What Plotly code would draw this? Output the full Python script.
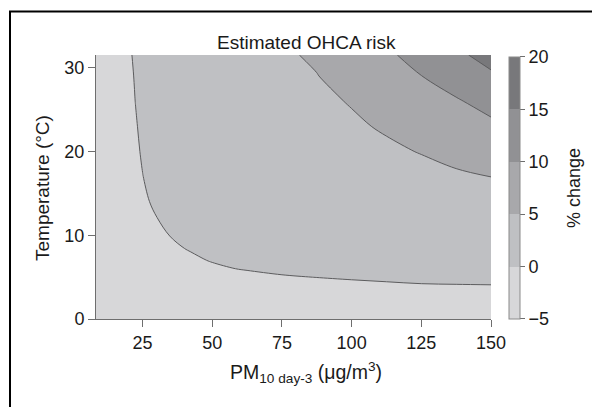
import plotly.graph_objects as go

# PM10 (ug/m3) grid and temperature (°C) grid
pm10 = [8, 15, 20, 22.5, 25, 30, 35, 40, 50, 62.5, 75, 87.5, 100, 112.5, 125, 137.5, 150]
temp = [0, 2, 4, 5, 6, 7, 8, 10, 12, 14, 17, 20, 23, 26, 29, 31.5]

# estimated % change in OHCA risk (rows = temperature, cols = PM10)
pct_t0 = [-1.20, -1.18, -1.16, -1.15, -1.14, -1.12, -1.10, -1.08, -1.04, -0.99, -0.94, -0.90, -0.86, -0.82, -0.78, -0.74, -0.70]
pct_t2 = [-0.80, -0.78, -0.76, -0.75, -0.74, -0.72, -0.70, -0.68, -0.64, -0.60, -0.56, -0.52, -0.49, -0.46, -0.43, -0.40, -0.37]
pct_t4 = [-0.45, -0.43, -0.42, -0.41, -0.40, -0.38, -0.36, -0.34, -0.30, -0.26, -0.23, -0.20, -0.17, -0.12, -0.06, -0.045, -0.03]
pct_t5 = [-0.41, -0.38, -0.35, -0.34, -0.32, -0.30, -0.27, -0.24, -0.19, -0.12, -0.05, 0.01, 0.08, 0.15, 0.22, 0.28, 0.35]
pct_t6 = [-0.38, -0.33, -0.29, -0.27, -0.25, -0.21, -0.17, -0.14, -0.06, 0.03, 0.13, 0.22, 0.32, 0.41, 0.51, 0.60, 0.70]
pct_t7 = [-0.41, -0.34, -0.29, -0.26, -0.24, -0.19, -0.13, -0.08, 0.02, 0.15, 0.28, 0.41, 0.54, 0.66, 0.79, 0.92, 1.05]
pct_t8 = [-0.44, -0.35, -0.29, -0.25, -0.22, -0.16, -0.09, -0.03, 0.10, 0.27, 0.43, 0.59, 0.75, 0.91, 1.08, 1.24, 1.40]
pct_t10 = [-0.51, -0.37, -0.28, -0.23, -0.18, -0.09, 0.01, 0.11, 0.30, 0.53, 0.77, 1.01, 1.25, 1.49, 1.72, 1.96, 2.20]
pct_t12 = [-0.54, -0.37, -0.25, -0.19, -0.13, -0.01, 0.11, 0.23, 0.48, 0.78, 1.08, 1.38, 1.69, 1.99, 2.29, 2.60, 2.90]
pct_t14 = [-0.59, -0.38, -0.23, -0.15, -0.08, 0.08, 0.23, 0.38, 0.68, 1.06, 1.43, 1.81, 2.19, 2.57, 2.94, 3.32, 3.70]
pct_t17 = [-0.69, -0.41, -0.21, -0.11, -0.01, 0.19, 0.39, 0.59, 0.99, 1.49, 1.99, 2.49, 3.00, 3.50, 4.00, 4.50, 5.02]
pct_t20 = [-0.81, -0.45, -0.20, -0.08, 0.05, 0.30, 0.55, 0.81, 1.31, 1.94, 2.57, 3.20, 3.83, 4.46, 5.14, 6.09, 7.05]
pct_t23 = [-0.90, -0.49, -0.19, -0.04, 0.11, 0.40, 0.70, 0.99, 1.59, 2.33, 3.07, 3.81, 4.55, 5.35, 6.68, 7.89, 9.10]
pct_t26 = [-0.96, -0.50, -0.16, 0.01, 0.17, 0.51, 0.84, 1.18, 1.85, 2.68, 3.52, 4.36, 5.19, 6.75, 8.18, 9.60, 11.57]
pct_t29 = [-1.03, -0.51, -0.13, 0.05, 0.24, 0.61, 0.98, 1.36, 2.10, 3.04, 3.97, 4.90, 6.53, 8.25, 9.96, 12.15, 14.35]
pct_t31 = [-1.09, -0.51, -0.10, 0.11, 0.31, 0.73, 1.14, 1.56, 2.38, 3.42, 4.45, 5.55, 7.63, 9.30, 11.55, 14.11, 16.60]

z = [pct_t0, pct_t2, pct_t4, pct_t5, pct_t6, pct_t7, pct_t8, pct_t10, pct_t12,
     pct_t14, pct_t17, pct_t20, pct_t23, pct_t26, pct_t29, pct_t31]

x_ticks = [25, 50, 75, 100, 125, 150]
y_ticks = [0, 10, 20, 30]
cb_ticks = [-5, 0, 5, 10, 15, 20]

band_colors = ["#d7d7d9", "#bfc0c3", "#a8a8ab", "#919194", "#78787b"]

FONT = "Liberation Sans, Arial, Helvetica, sans-serif"
TXT = "#1a1a1a"
AX = "#6e6e6e"

# the page body adds an 8px offset; figure is sized to fill the rest of the window
OFF = 8
FW, FH = 600 - OFF, 407 - OFF
PL, PR, PT, PB = 96, 491, 55, 319   # plot area in window pixels
PW, PH = PR - PL, PB - PT


def px(xw):
    return (xw - PL) / PW


def py(yw):
    return (PB - yw) / PH


c = band_colors
fill_scale = [[0, c[0]], [1/6, c[0]], [2/6, c[1]], [3/6, c[2]], [4/6, c[3]], [5/6, c[4]], [1, c[4]]]

bar_scale = []
for i, col in enumerate(band_colors):
    bar_scale.append([i / 5, col])
    bar_scale.append([(i + 1) / 5, col])

fig = go.Figure()
fig.add_trace(go.Contour(
    x=pm10, y=temp, z=z,
    contours=dict(start=-5, end=20, size=5, coloring="fill"),
    colorscale=fill_scale,
    line=dict(color="#5c5c5e", width=1, smoothing=1),
    showscale=False,
    hoverinfo="skip",
))

fig.add_trace(go.Scatter(
    x=[None, None], y=[None, None], mode="markers",
    marker=dict(
        color=[cb_ticks[0], cb_ticks[-1]], cmin=cb_ticks[0], cmax=cb_ticks[-1],
        colorscale=bar_scale, showscale=True,
        colorbar=dict(
            x=px(509), xanchor="left", xpad=0, ypad=0,
            y=py(187.9), yanchor="middle",
            len=262, lenmode="pixels", thickness=11,
            outlinecolor="#8a8a8a", outlinewidth=1,
            tickvals=cb_ticks, ticks="outside", ticklen=5, tickcolor=AX,
            tickfont=dict(family=FONT, size=18, color=TXT),
        ),
    ),
    showlegend=False, hoverinfo="skip",
))

fig.update_layout(
    width=FW, height=FH,
    margin=dict(l=PL - OFF, r=FW - (PR - OFF), t=PT - OFF, b=FH - (PB - OFF)),
    paper_bgcolor="white", plot_bgcolor="white",
    showlegend=False,
    xaxis=dict(range=[8.3, 150], tickvals=x_ticks, ticks="outside", ticklen=7,
               tickcolor=AX, showline=True, linecolor=AX, linewidth=1,
               showgrid=False, zeroline=False,
               tickfont=dict(family=FONT, size=18, color=TXT)),
    yaxis=dict(range=[0, 31.5], tickvals=y_ticks, ticks="outside", ticklen=7,
               tickcolor=AX, showline=True, linecolor=AX, linewidth=1,
               showgrid=False, zeroline=False,
               tickfont=dict(family=FONT, size=18, color=TXT)),
    annotations=[
        dict(text="Estimated OHCA risk", xref="paper", yref="paper",
             x=px(306), y=py(42.5), xanchor="center", yanchor="middle",
             showarrow=False, font=dict(family=FONT, size=19, color=TXT)),
        dict(text="PM<sub>10 day-3</sub> (μg/m<sup>3</sup>)", xref="paper", yref="paper",
             x=px(306), y=py(372), xanchor="center", yanchor="middle",
             showarrow=False, font=dict(family=FONT, size=19.5, color=TXT)),
        dict(text="Temperature (°C)", xref="paper", yref="paper", textangle=-90,
             x=px(42), y=py(188), xanchor="center", yanchor="middle",
             showarrow=False, font=dict(family=FONT, size=19, color=TXT)),
        dict(text="% change", xref="paper", yref="paper", textangle=-90,
             x=px(574), y=py(188), xanchor="center", yanchor="middle",
             showarrow=False, font=dict(family=FONT, size=18, color=TXT)),
    ],
    shapes=[
        dict(type="rect", xref="paper", yref="paper",
             x0=px(10), x1=px(595.5), y0=py(430), y1=py(11.5),
             line=dict(color="black", width=2), fillcolor="rgba(0,0,0,0)", layer="above"),
    ],
)

fig.write_html("out.html")
